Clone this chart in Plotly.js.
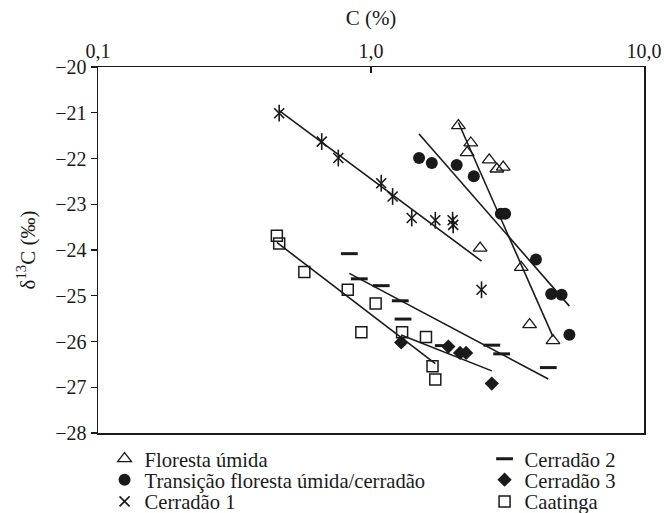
<!DOCTYPE html>
<html>
<head>
<meta charset="utf-8">
<script src="https://cdn.plot.ly/plotly-3.0.1.min.js"></script>
<style>html,body{margin:0;padding:0;background:#fff;}#chart{width:664px;height:513px;}</style>
</head>
<body>
<div id="chart"></div>
<script>
// Series: C (%) and δ13C (‰)
var florestaC = [2.09, 2.32, 2.25, 2.71, 2.89, 3.05, 2.51, 3.55, 3.81, 4.64];
var florestaD = [-21.28, -21.66, -21.87, -22.03, -22.23, -22.19, -23.96, -24.38, -25.63, -25.98];
var transicaoC = [1.50, 1.67, 2.06, 2.38, 2.99, 3.10, 4.02, 4.57, 4.99, 5.33];
var transicaoD = [-21.99, -22.10, -22.14, -22.39, -23.21, -23.21, -24.21, -24.96, -24.98, -25.85];
var cerradao1C = [0.461, 0.660, 0.759, 1.09, 1.20, 1.41, 1.72, 1.99, 2.00, 2.54];
var cerradao1D = [-21.01, -21.63, -21.99, -22.54, -22.83, -23.30, -23.35, -23.35, -23.45, -24.87];
var cerradao2C = [0.833, 0.906, 1.09, 1.28, 1.31, 1.84, 2.77, 3.01, 4.46];
var cerradao2D = [-24.08, -24.63, -24.78, -25.11, -25.51, -26.09, -26.08, -26.27, -26.57];
var cerradao3C = [1.29, 1.92, 2.12, 2.23, 2.77];
var cerradao3D = [-26.02, -26.11, -26.25, -26.25, -26.92];
var caatingaC = [0.452, 0.461, 0.570, 0.822, 1.04, 0.922, 1.30, 1.59, 1.68, 1.72];
var caatingaD = [-23.69, -23.86, -24.48, -24.87, -25.17, -25.80, -25.80, -25.90, -26.54, -26.83];

var seriesNames = ['Floresta úmida', 'Transição floresta úmida/cerradão', 'Cerradão 1', 'Cerradão 2', 'Cerradão 3', 'Caatinga'];
var xTickVals = [0.1, 1, 10];
var xTickText = ['0,1', '1,0', '10,0'];

var INK = '#1a1a1a';
var FONT = '"Liberation Serif", "Times New Roman", Times, serif';

function trend(xs, ys) {
  var lx = xs.map(function (v) { return Math.log10(v); });
  var n = lx.length, mx = 0, my = 0;
  for (var i = 0; i < n; i++) { mx += lx[i]; my += ys[i]; }
  mx /= n; my /= n;
  var sxx = 0, sxy = 0;
  for (i = 0; i < n; i++) { sxx += (lx[i] - mx) * (lx[i] - mx); sxy += (lx[i] - mx) * (ys[i] - my); }
  var b = sxy / sxx, a = my - b * mx;
  var xmin = Math.min.apply(null, xs), xmax = Math.max.apply(null, xs);
  return {
    x: [xmin, xmax], y: [a + b * Math.log10(xmin), a + b * Math.log10(xmax)],
    type: 'scatter', mode: 'lines', line: {color: INK, width: 1.6},
    showlegend: false, hoverinfo: 'skip'
  };
}

var pts = [
  {x: florestaC, y: florestaD, name: seriesNames[0], legend: 'legend', legendwidth: 335,
   marker: {symbol: 'triangle-up-open', size: 12, color: INK, line: {color: INK, width: 1.3}}},
  {x: transicaoC, y: transicaoD, name: seriesNames[1], legend: 'legend2', legendwidth: 335,
   marker: {symbol: 'circle', size: 12, color: INK, line: {width: 0}}},
  {x: cerradao1C, y: cerradao1D, name: seriesNames[2], legend: 'legend3', legendwidth: 335,
   marker: {symbol: 'x-thin-open', size: 10, color: INK, line: {color: INK, width: 1.6}}},
  {x: cerradao2C, y: cerradao2D, name: seriesNames[3], legend: 'legend', legendwidth: 100,
   marker: {symbol: 'line-ew-open', size: 12, color: INK, line: {color: INK, width: 3}}},
  {x: cerradao3C, y: cerradao3D, name: seriesNames[4], legend: 'legend2', legendwidth: 100,
   marker: {symbol: 'diamond', size: 11, color: INK, line: {width: 0}}},
  {x: caatingaC, y: caatingaD, name: seriesNames[5], legend: 'legend3', legendwidth: 100,
   marker: {symbol: 'square-open', size: 11, color: INK, line: {color: INK, width: 1.5}}}
];
pts.forEach(function (t) { t.type = 'scatter'; t.mode = 'markers'; });

// vertical stroke completing the asterisk marker of Cerradão 1
var asteriskBar = {x: cerradao1C, y: cerradao1D, type: 'scatter', mode: 'markers', showlegend: false,
  hoverinfo: 'skip', marker: {symbol: 'line-ns-open', size: 12, color: INK, line: {color: INK, width: 1.6}}};

var data = pts.concat([asteriskBar,
  trend(florestaC, florestaD), trend(transicaoC, transicaoD), trend(cerradao1C, cerradao1D),
  trend(cerradao2C, cerradao2D), trend(cerradao3C, cerradao3D), trend(caatingaC, caatingaD)]);

function legendRow(y) {
  return {orientation: 'h', x: 0.012, xanchor: 'left', y: y, yanchor: 'top',
    bgcolor: 'rgba(0,0,0,0)', borderwidth: 0, itemsizing: 'trace', itemclick: false,
    font: {family: FONT, size: 20.6, color: INK}};
}

var layout = {
  width: 664, height: 513,
  margin: {l: 98, r: 20, t: 67, b: 80, autoexpand: false},
  paper_bgcolor: '#fff', plot_bgcolor: '#fff',
  font: {family: FONT, size: 20, color: INK},
  xaxis: {
    type: 'log', range: [-1, 1], side: 'top',
    tickvals: xTickVals, ticktext: xTickText,
    ticks: 'inside', ticklen: 6, tickcolor: INK, tickwidth: 1.3,
    showline: true, mirror: true, linecolor: INK, linewidth: 1.5,
    showgrid: false, zeroline: false, automargin: false,
    tickfont: {family: FONT, size: 20, color: INK},
    title: {text: 'C (%)', font: {family: FONT, size: 21, color: INK}, standoff: 8}
  },
  yaxis: {
    range: [-28, -20], dtick: 1, tick0: -28,
    ticks: 'outside', ticklen: 6, tickcolor: INK, tickwidth: 1.3,
    showline: true, mirror: true, linecolor: INK, linewidth: 1.5,
    showgrid: false, zeroline: false, automargin: false,
    tickfont: {family: FONT, size: 20, color: INK},
    title: {text: 'δ<sup>13</sup>C (‰)', font: {family: FONT, size: 21, color: INK}, standoff: 14}
  },
  legend: legendRow(-0.0158),
  legend2: legendRow(-0.0732),
  legend3: legendRow(-0.1325),
  showlegend: true
};

Plotly.newPlot('chart', data, layout, {staticPlot: true, displayModeBar: false});
</script>
</body>
</html>
